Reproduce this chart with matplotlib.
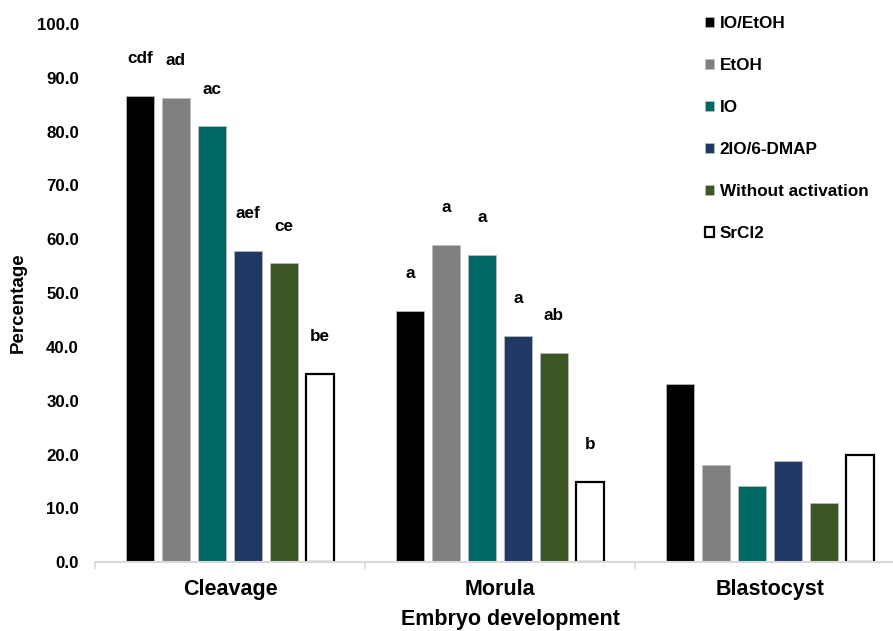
import numpy as np
import matplotlib
matplotlib.use("Agg")
from matplotlib import pyplot as plt

stages = ["Cleavage", "Morula", "Blastocyst"]
treatments = ["IO/EtOH", "EtOH", "IO", "2IO/6-DMAP", "Without activation", "SrCl2"]

io_etoh = [86.7, 46.7, 33.2]
etoh = [86.3, 59.0, 18.1]
io = [81.0, 57.1, 14.2]
dmap = [57.9, 42.1, 18.8]
without_act = [55.6, 38.9, 11.0]
srcl2 = [35.0, 15.0, 19.9]

letters_cleavage = ["cdf", "ad", "ac", "aef", "ce", "be"]
letters_morula = ["a", "a", "a", "a", "ab", "b"]
letters_blastocyst = ["", "", "", "", "", ""]

yticks = [0, 10, 20, 30, 40, 50, 60, 70, 80, 90, 100]

colors = ["#000000", "#7f7f7f", "#006864", "#203864", "#3a5724", "#ffffff"]
edges = ["#bfbfbf", "#bfbfbf", "#bfbfbf", "#bfbfbf", "#bfbfbf", "#000000"]

plt.rcParams["font.family"] = ["Liberation Sans", "DejaVu Sans"]
plt.rcParams["font.weight"] = "bold"

fig = plt.figure(figsize=(8.93, 6.31), dpi=100)
ax = fig.add_axes([95 / 893, 68.7 / 631, 810 / 893, 538.3 / 631])

series = [io_etoh, etoh, io, dmap, without_act, srcl2]
letters = [letters_cleavage, letters_morula, letters_blastocyst]
x = np.arange(len(stages)) + 0.5
step = 36 / 270
width = 28 / 270

for i, vals in enumerate(series):
    pos = x + (i - 2.5) * step
    lw = 1.6 if i == 5 else 0.5
    ax.bar(pos, vals, width, color=colors[i], edgecolor=edges[i],
           linewidth=lw, label=treatments[i], zorder=2)
    for j, v in enumerate(vals):
        if letters[j][i]:
            ax.annotate(letters[j][i], (pos[j], v), xytext=(0, 37),
                        textcoords="offset pixels", ha="center", va="center",
                        fontsize=12.3, fontweight="bold")

ax.set_xlim(0, 3)
ax.set_ylim(0, 100)
ax.set_yticks(yticks)
ax.set_yticklabels([f"{t:.1f}" for t in yticks], fontsize=12.2, fontweight="bold")
ax.tick_params(axis="y", length=0, pad=11.5)

ax.set_xticks([0, 1, 2, 3])
ax.set_xticklabels([])
ax.tick_params(axis="x", which="major", length=5, width=1.2, color="#d9d9d9", direction="out")
ax.set_xticks(x, minor=True)
ax.set_xticklabels(stages, minor=True, fontsize=15.5, fontweight="bold")
ax.tick_params(axis="x", which="minor", length=0, pad=12)

for s in ["top", "right", "left"]:
    ax.spines[s].set_visible(False)
ax.spines["bottom"].set_color("#d9d9d9")
ax.spines["bottom"].set_linewidth(1.5)

fig.text(18 / 893, 1 - 303 / 631, "Percentage", rotation=90, ha="center",
         va="center", fontsize=13.5, fontweight="bold")
fig.text(510 / 893, 1 - 620 / 631, "Embryo development", ha="center",
         va="center", fontsize=15.5, fontweight="bold")

leg = ax.legend(loc="upper left", bbox_to_anchor=(705 / 893, 1 - 16 / 631),
                bbox_transform=fig.transFigure, frameon=False, fontsize=12.3,
                handlelength=0.55, handleheight=0.55, handletextpad=0.3,
                labelspacing=1.58, borderpad=0, borderaxespad=0)
for t in leg.get_texts():
    t.set_fontweight("bold")

fig.savefig("out.png", dpi=100)
